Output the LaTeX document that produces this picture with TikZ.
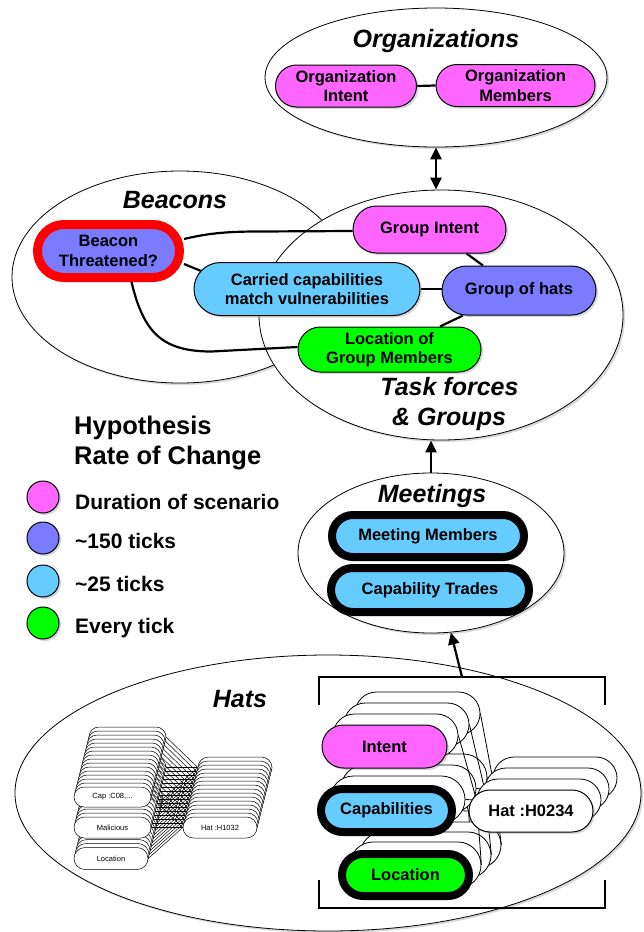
\documentclass[tikz,border=0pt]{standalone}
\usepackage{fontspec}
\setmainfont{Liberation Sans}
\usetikzlibrary{shapes.misc,shapes.geometric,arrows.meta,calc,shadows}
\definecolor{cpink}{HTML}{FF66FF}
\definecolor{cpurple}{HTML}{7B7BFF}
\definecolor{cblue}{HTML}{66CCFF}
\definecolor{cgreen}{HTML}{00FF00}
\definecolor{cred}{HTML}{FF0000}
\pgfdeclarelayer{bg}
\pgfdeclarelayer{edges}
\pgfsetlayers{bg,edges,main}
\newcommand{\fpill}{\fontsize{16.5}{19.5}\selectfont\bfseries}
\newcommand{\fttl}{\fontsize{25}{28}\selectfont\bfseries\itshape}
\newcommand{\fhyp}{\fontsize{25.5}{30}\selectfont\bfseries}
\newcommand{\fleg}{\fontsize{21}{24}\selectfont\bfseries}
\newcommand{\fsmall}{\fontsize{7.5}{9}\selectfont}
\tikzset{
  shadowed/.style={drop shadow={opacity=0.3, shadow xshift=2pt, shadow yshift=-2pt}},
  region/.style={ellipse, draw, line width=0.8pt, fill=white, inner sep=0pt, shadowed},
  pill/.style={rounded rectangle, draw, line width=1pt, inner sep=0pt, align=center, font=\fpill, shadowed},
  tpill/.style={pill, line width=8pt},
  bstack/.style={rounded rectangle, draw, fill=white, line width=0.8pt, inner sep=0pt},
  sstack/.style={rounded rectangle, draw, fill=white, line width=0.5pt, inner sep=0pt, font=\fsmall},
  slink/.style={line width=0.5pt},
  blink/.style={line width=0.8pt},
  ttl/.style={anchor=base, inner sep=0pt, font=\fttl},
  legtext/.style={anchor=base west, inner sep=0pt, font=\fleg},
  legdot/.style={circle, draw, line width=1pt, minimum size=32pt, inner sep=0pt, shadowed},
  conn/.style={line width=2.2pt},
  bigarrow/.style={line width=2.3pt, -{Triangle[width=11pt,length=12pt]}},
  dblarrow/.style={line width=2.3pt, {Triangle[width=11pt,length=12pt]}-{Triangle[width=11pt,length=12pt]}},
  bracketline/.style={line width=2pt}
}
\begin{document}
\begin{tikzpicture}[x=1pt,y=-1pt]
\begin{pgfonlayer}{bg}
\fill[white] (0,0) rectangle (643,932);
\node[region, minimum width=342pt, minimum height=139pt] (org) at (436,77.5) {};
\node[region, minimum width=336pt, minimum height=212pt] (bcn) at (180,277) {};
\node[region, minimum width=364pt, minimum height=250pt] (tf) at (441,315) {};
\node[region, minimum width=266pt, minimum height=160pt] (meet) at (431,553) {};
\node[region, minimum width=626pt, minimum height=276pt] (hats) at (328,793) {};
\end{pgfonlayer}
\useasboundingbox (0,0) rectangle (643,932);

% titles
\node[ttl] (torg) at (436,47) {Organizations};
\node[ttl] (tbcn) at (175,208) {Beacons};
\node[ttl] (ttf1) at (449.5,395) {Task forces};
\node[ttl] (ttf2) at (449,425) {\& Groups};
\node[ttl] (tmeet) at (432,502) {Meetings};
\node[ttl] (thats) at (240,707) {Hats};

% organizations
\node[pill, fill=cpink, minimum width=141pt, minimum height=42pt] (oi) at (346,86) {Organization\\Intent};
\node[pill, fill=cpink, minimum width=159pt, minimum height=42pt] (om) at (515.5,85.5) {Organization\\Members};

% beacons / task forces
\node[pill, fill=cpurple, draw=cred, line width=9pt, minimum width=142pt, minimum height=53pt] (beacon) at (108.5,251) {Beacon\\Threatened?};
\node[pill, fill=cpink, minimum width=153pt, minimum height=47pt] (gint) at (429.5,229.5) {Group Intent};
\node[pill, fill=cblue, minimum width=226pt, minimum height=53pt] (carried) at (307,289) {Carried capabilities\\match vulnerabilities};
\node[pill, fill=cpurple, minimum width=154pt, minimum height=49pt] (ghats) at (519,290.5) {Group of hats};
\node[pill, fill=cgreen, minimum width=183pt, minimum height=45pt] (gloc) at (389.5,349.5) {Location of\\Group Members};

% meetings
\node[tpill, fill=cblue, minimum width=192pt, minimum height=42pt] (mm) at (428,536) {Meeting Members};
\node[tpill, fill=cblue, minimum width=198pt, minimum height=44pt] (ct) at (430,590) {Capability Trades};

% legend
\node[anchor=base west, inner sep=0pt, font=\fhyp] (hyp1) at (74,434) {Hypothesis};
\node[anchor=base west, inner sep=0pt, font=\fhyp] (hyp2) at (74,464) {Rate of Change};
\node[legdot, fill=cpink] (d1) at (43,497) {};
\node[legdot, fill=cpurple] (d2) at (43,538) {};
\node[legdot, fill=cblue] (d3) at (43,581) {};
\node[legdot, fill=cgreen] (d4) at (43,623) {};
\node[legtext] (l1) at (75,509) {Duration of scenario};
\node[legtext] (l2) at (75,548) {\textasciitilde150 ticks};
\node[legtext] (l3) at (75,591) {\textasciitilde25 ticks};
\node[legtext] (l4) at (75,633) {Every tick};

% small hat stack (left)
\foreach \k in {15,14,...,1}{
  \node[sstack, minimum width=77pt, minimum height=20pt] (sc\k) at ({112.5+\k},{797-4*\k}) {};
  \node[sstack, minimum width=77pt, minimum height=21pt] (sm\k) at ({112.5+\k},{827.5-4*\k}) {};
  \node[sstack, minimum width=74pt, minimum height=22pt] (sl\k) at ({111+\k},{858.5-4*\k}) {};
  \node[sstack, minimum width=74pt, minimum height=21pt] (sh\k) at ({220+\k},{827.5-4*\k}) {};
  \draw[slink] (sc\k.east) -- (sh\k.west);
  \draw[slink] (sm\k.east) -- (sh\k.west);
  \draw[slink] (sl\k.east) -- (sh\k.west);
}
\node[sstack, minimum width=77pt, minimum height=20pt] (sc0) at (112.5,797) {Cap :C08,...};
\node[sstack, minimum width=77pt, minimum height=21pt] (sm0) at (112.5,827.5) {Malicious};
\node[sstack, minimum width=74pt, minimum height=22pt] (sl0) at (111,858.5) {Location};
\node[sstack, minimum width=74pt, minimum height=21pt] (sh0) at (220,827.5) {Hat :H1032};
\draw[slink] (sc0.east) -- (sh0.west);
\draw[slink] (sm0.east) -- (sh0.west);
\draw[slink] (sl0.east) -- (sh0.west);

% big hat stack (right)
\foreach \k in {3,2,1}{
  \node[bstack, minimum width=125pt, minimum height=43pt] (bi\k) at ({384.5+11*\k},{746.5-11*\k}) {};
  \node[bstack, minimum width=135pt, minimum height=47pt] (bc\k) at ({386.5+11*\k},{810.5-11*\k}) {};
  \node[bstack, minimum width=131pt, minimum height=46pt] (bl\k) at ({405.5+10*\k},{875-10*\k}) {};
  \node[bstack, minimum width=124pt, minimum height=42pt] (bh\k) at ({531+8*\k},{811-11*\k}) {};
  \draw[blink] (bi\k.east) -- (bh\k.west);
  \draw[blink] (bc\k.east) -- (bh\k.west);
  \draw[blink] (bl\k.east) -- (bh\k.west);
}
\node[pill, fill=cpink, minimum width=125pt, minimum height=43pt] (intent) at (384.5,746.5) {Intent};
\node[tpill, fill=cblue, minimum width=131pt, minimum height=43pt] (caps) at (386.5,810.5) {Capabilities};
\node[tpill, fill=cgreen, minimum width=127pt, minimum height=42pt] (hloc) at (405.5,875) {Location};
\node[pill, fill=white, minimum width=124pt, minimum height=42pt] (hat) at (531,811) {Hat :H0234};
\begin{pgfonlayer}{edges}
\draw[blink] (intent.east) -- (hat.west);
\draw[blink] (caps.east) -- (hat.west);
\draw[blink] (hloc.east) -- (hat.west);
\end{pgfonlayer}

% bracket
\draw[bracketline] (319,705) -- (319,677) -- (605,677) -- (605,705);
\draw[bracketline] (319,880) -- (319,908) -- (605,908) -- (605,880);
\coordinate (brk) at (462,677);

% connectors
\coordinate (b1) at ($(beacon.east)+(0,-12)$);
\coordinate (b3) at ($(beacon.south)+(23,0)$);
\begin{pgfonlayer}{edges}
\draw[conn] (oi.east) -- (om.west);
\draw[conn] (b1) .. controls ($(b1)+(25,-6)$) and ($(b1)+(45,-7.5)$) .. ($(b1)+(75,-7.5)$) -- ($(gint.west)+(0,1.5)$);
\draw[conn] ($(beacon.east)+(0,13)$) -- ($(carried.west)+(15,-15)$);
\draw[conn] (b3) .. controls ($(b3)+(12,50)$) and ($(b3)+(30,69.5)$) .. ($(b3)+(80,69.5)$) -- ($(gloc.west)+(0,-2.5)$);
\draw[conn] ($(gint.south)+(37,0)$) -- ($(ghats.north)+(-36,0)$);
\draw[conn] (carried.east) -- (carried.east -| ghats.west);
\draw[conn] ($(ghats.south)+(-56,0)$) -- ($(gloc.north)+(50.5,0)$);
\end{pgfonlayer}

% arrows
\draw[dblarrow] (org.south) -- (org.south |- tf.north);
\draw[bigarrow] (meet.north) -- (meet.north |- tf.south);
\draw[bigarrow] (brk) -- (meet);
\end{tikzpicture}
\end{document}
